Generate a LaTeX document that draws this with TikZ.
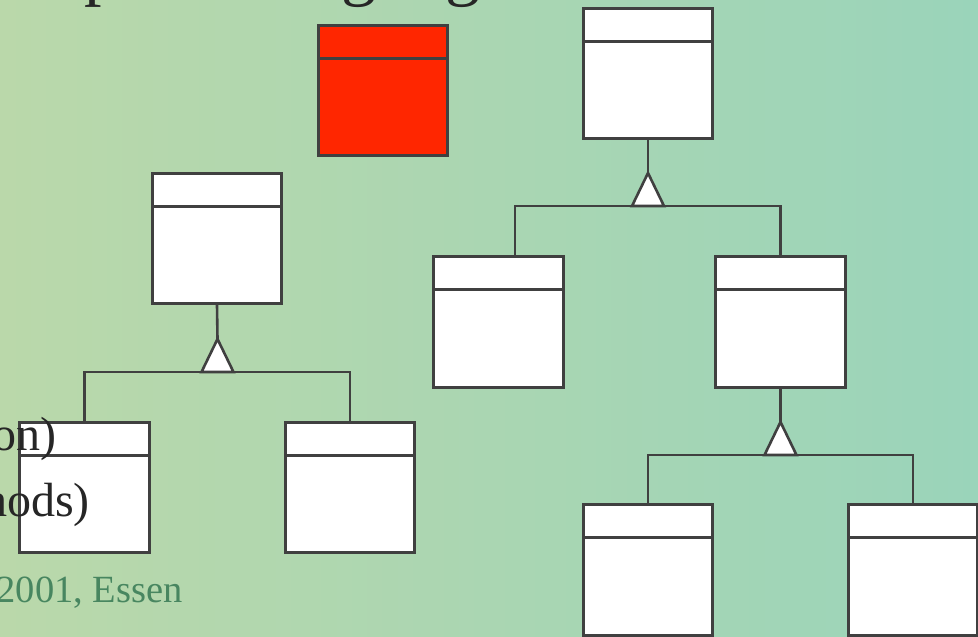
\documentclass[tikz,border=0pt]{standalone}
\usepackage{fontspec}
\setmainfont{Liberation Serif}
\usepackage{tikz}
\usetikzlibrary{calc, positioning}
\usepackage{xcolor}
\definecolor{bgleft}{RGB}{186,216,170}
\definecolor{bgmid}{RGB}{180,220,186}
\definecolor{bgright}{RGB}{154,212,186}
\definecolor{linegray}{RGB}{64,64,64}
\definecolor{classred}{RGB}{255,38,0}
\definecolor{textgray}{RGB}{38,38,38}
\definecolor{footgreen}{RGB}{72,134,96}

\begin{document}
\begin{tikzpicture}[x=1pt, y=-1pt,
    classbox/.style={draw=linegray, line width=2.8pt, fill=white, inner sep=0pt,
        minimum width=129.5pt, minimum height=130.5pt,
        path picture={\draw[linegray, line width=2.8pt]
            ([yshift=-33pt]path picture bounding box.north west) --
            ([yshift=-33pt]path picture bounding box.north east);}},
    conn/.style={draw=linegray, line width=2.6pt},
    gen/.style={draw=linegray, line width=2.6pt, fill=white, line join=miter},
    txt/.style={inner sep=0pt, text=textgray, font=\fontsize{48}{48}\selectfont}]
    \useasboundingbox (0,0) rectangle (978,637);
    \clip (0,0) rectangle (978,637);
    % Background
    \shade[left color=bgleft, middle color=bgmid, right color=bgright] (0,0) rectangle (978,637);
    % Title (only its lower edge shows)
    \node[txt, anchor=base west, font=\fontsize{70}{70}\selectfont] (titlep) at (84,-7) {p};
    \node[txt, anchor=base west, font=\fontsize{70}{70}\selectfont] (titleg) at (341,-7) {g};
    \node[txt, anchor=base west, font=\fontsize{70}{70}\selectfont] (titlegg) at (445,-7) {g};
    % Classes
    \node[classbox, fill=classred] (R) at (383,90.5) {};
    \node[classbox] (A) at (648,73.5) {};
    \node[classbox] (B) at (498.5,322) {};
    \node[classbox] (C) at (780.5,322) {};
    \node[classbox] (D) at (217,238.5) {};
    \node[classbox] (E) at (84.5,487.5) {};
    \node[classbox] (F) at (350,487.5) {};
    \node[classbox] (G) at (648,570) {};
    \node[classbox] (H) at (913,570) {};
    % Inheritance below A
    \coordinate (tA) at (648,206);
    \draw[conn] ([xshift=16.5pt]B.north) |- (tA) -| (C.north);
    \draw[conn] (A.south) -- ($(tA)+(0,-33)$);
    \draw[gen] (tA) ++(-16,0) -- ++(16,-33) -- ++(16,33) -- cycle;
    % Inheritance below D
    \coordinate (tD) at (217.5,372);
    \draw[conn] (E.north) |- (tD) -| (F.north);
    \draw[conn] (D.south) -- ($(tD)+(0,-33)$);
    \draw[gen] (tD) ++(-16,0) -- ++(16,-33) -- ++(16,33) -- cycle;
    % Inheritance below C
    \coordinate (tC) at (780.5,455);
    \draw[conn] (G.north) |- (tC) -| (H.north);
    \draw[conn] (C.south) -- ($(tC)+(0,-33)$);
    \draw[gen] (tC) ++(-16,0) -- ++(16,-33) -- ++(16,33) -- cycle;
    % Text lines over the diagram
    \node[txt, anchor=base east] (lineon) at (57,450) {on)};
    \node[txt, anchor=base east] (linehods) at (90,516) {hods)};
    \node[inner sep=0pt, anchor=base east, text=footgreen, font=\fontsize{38.5}{38.5}\selectfont] (footer) at (183,602) {2001, Essen};
\end{tikzpicture}
\end{document}
